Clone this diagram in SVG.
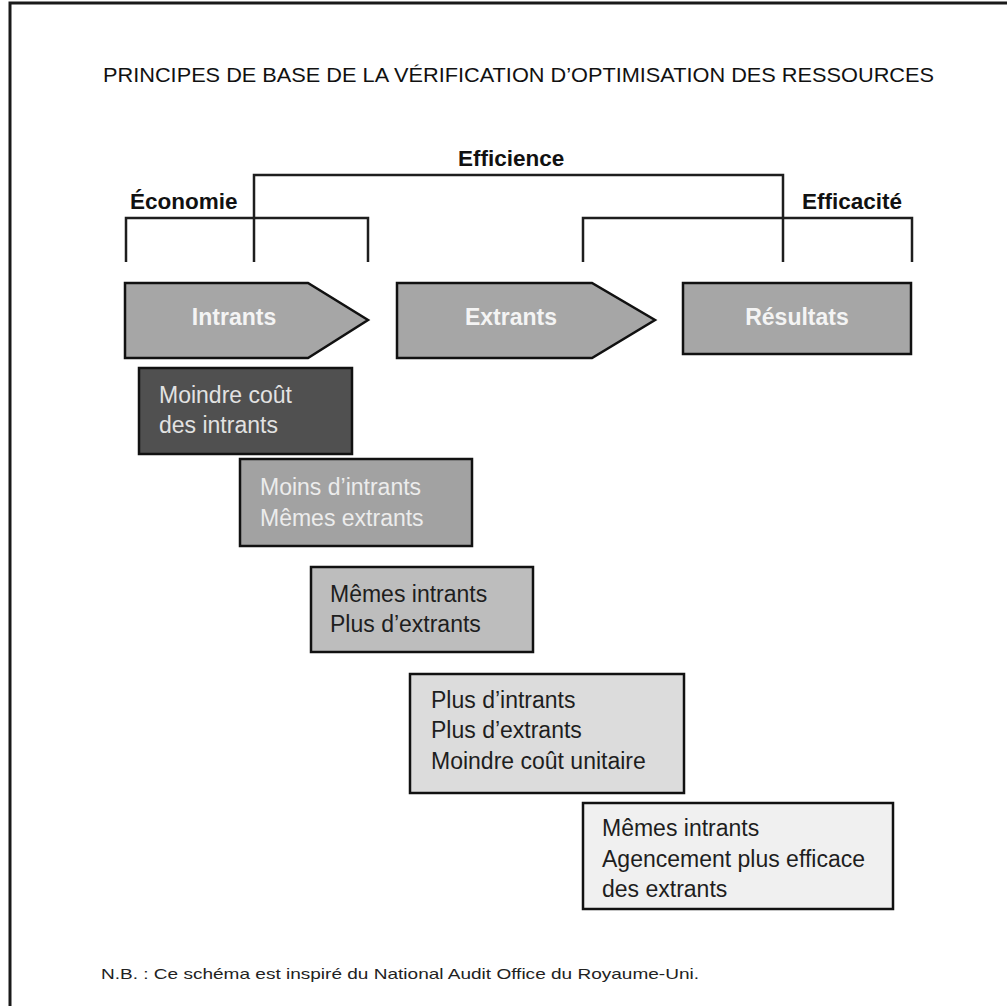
<svg xmlns="http://www.w3.org/2000/svg" width="1007" height="1006" viewBox="0 0 1007 1006">
<style>
.frame{fill:none;stroke:#1a1a1a;stroke-width:3}
.br{fill:none;stroke:#1e1e1e;stroke-width:2.5}
.hdr{font-family:"Liberation Sans",Arial,sans-serif;font-weight:bold;font-size:22.5px;fill:#111}
.title{font-family:"Liberation Sans",Arial,sans-serif;font-size:21px;fill:#111}
.note{font-family:"Liberation Sans",Arial,sans-serif;font-size:15px;fill:#222}
.stage{fill:#a6a6a6;stroke:#111;stroke-width:2.5;stroke-linejoin:miter}
.stxt{font-family:"Liberation Sans",Arial,sans-serif;font-weight:bold;font-size:23px;fill:#f4f4f4;text-anchor:middle}
.box{stroke:#111;stroke-width:2.5}
.btxt{font-family:"Liberation Sans",Arial,sans-serif;font-size:23px}
</style>
<path class="frame" d="M10,1007 V3 H1007"/>
<text class="title" x="103" y="82" textLength="831" lengthAdjust="spacingAndGlyphs">PRINCIPES DE BASE DE LA VÉRIFICATION D’OPTIMISATION DES RESSOURCES</text>
<g id="connectors">
<path class="br" d="M126,262 V218 H368 V262"/>
<path class="br" d="M254,262 V175 H783 V262"/>
<path class="br" d="M583,262 V218 H912 V262"/>
</g>
<g id="economie"><text class="hdr" x="130" y="209">Économie</text></g>
<g id="efficience"><text class="hdr" x="458" y="166">Efficience</text></g>
<g id="efficacite"><text class="hdr" x="802" y="209">Efficacité</text></g>
<g id="intrants">
<path class="stage" d="M125,283 H308 L368,320 L308,358 H125 Z"/>
<text class="stxt" x="234" y="325">Intrants</text>
</g>
<g id="extrants">
<path class="stage" d="M397,283 H592 L655,320 L592,358 H397 Z"/>
<text class="stxt" x="511" y="325">Extrants</text>
</g>
<g id="resultats">
<rect class="stage" x="683" y="283" width="228" height="71"/>
<text class="stxt" x="797" y="325">Résultats</text>
</g>
<g id="box1">
<rect class="box" x="139" y="368" width="213" height="86" fill="#505050"/>
<text class="btxt" fill="#e2e2e2" x="159" y="403">Moindre coût</text>
<text class="btxt" fill="#e2e2e2" x="159" y="433">des intrants</text>
</g>
<g id="box2">
<rect class="box" x="240" y="459" width="232" height="87" fill="#a2a2a2"/>
<text class="btxt" fill="#ececec" x="260" y="495">Moins d’intrants</text>
<text class="btxt" fill="#ececec" x="260" y="526">Mêmes extrants</text>
</g>
<g id="box3">
<rect class="box" x="311" y="567" width="222" height="85" fill="#bdbdbd"/>
<text class="btxt" fill="#1e1e1e" x="330" y="602">Mêmes intrants</text>
<text class="btxt" fill="#1e1e1e" x="330" y="632">Plus d’extrants</text>
</g>
<g id="box4">
<rect class="box" x="410" y="674" width="274" height="119" fill="#dcdcdc"/>
<text class="btxt" fill="#1e1e1e" x="431" y="708">Plus d’intrants</text>
<text class="btxt" fill="#1e1e1e" x="431" y="738">Plus d’extrants</text>
<text class="btxt" fill="#1e1e1e" x="431" y="769">Moindre coût unitaire</text>
</g>
<g id="box5">
<rect class="box" x="583" y="803" width="310" height="106" fill="#f0f0f0"/>
<text class="btxt" fill="#1e1e1e" x="602" y="836">Mêmes intrants</text>
<text class="btxt" fill="#1e1e1e" x="602" y="867">Agencement plus efficace</text>
<text class="btxt" fill="#1e1e1e" x="602" y="897">des extrants</text>
</g>
<text class="note" x="101" y="979" textLength="598" lengthAdjust="spacingAndGlyphs">N.B. : Ce schéma est inspiré du National Audit Office du Royaume-Uni.</text>
</svg>
